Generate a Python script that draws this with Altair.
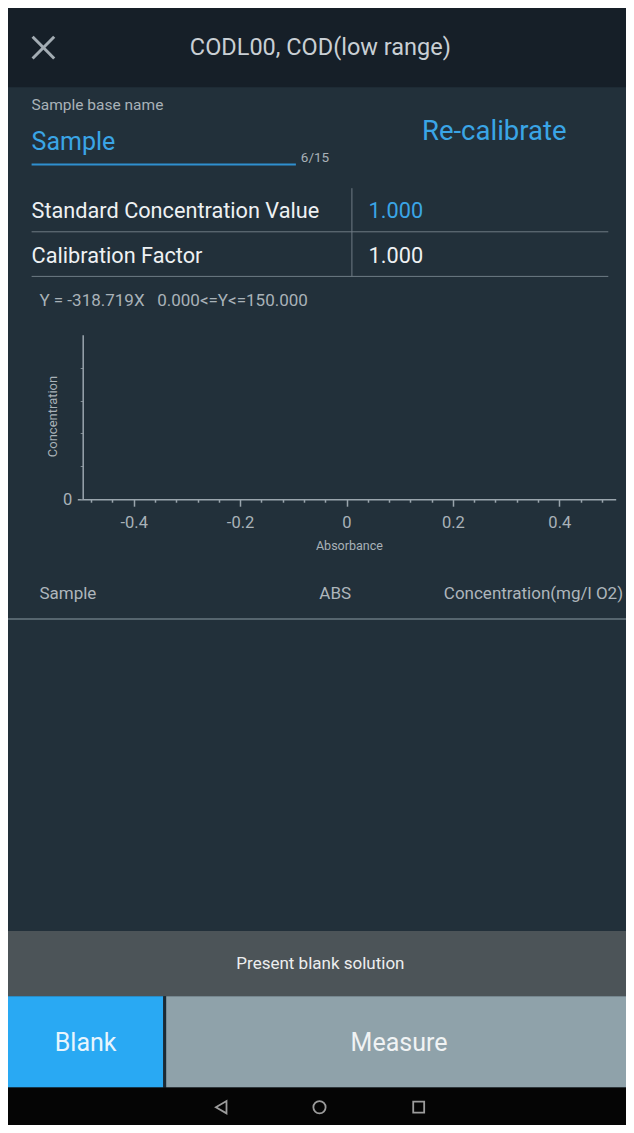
import altair as alt
import pandas as pd

# ---------------- data ----------------
screen_title = "CODL00, COD(low range)"
name_caption = "Sample base name"
sample_name = "Sample"
name_counter = "6/15"
recalibrate_label = "Re-calibrate"
param_names = ["Standard Concentration Value", "Calibration Factor"]
param_values = ["1.000", "1.000"]
equation_text = "Y = -318.719X\u00a0\u00a0\u00a00.000<=Y<=150.000"
table_columns = ["Sample", "ABS", "Concentration(mg/l O2)"]
status_text = "Present blank solution"
button_labels = ["Blank", "Measure"]

x_title = "Absorbance"
y_title = "Concentration"
x_domain = [-0.506, 0.506]
y_domain = [0, 150]
x_tick_values = [-0.48, -0.44, -0.40, -0.36, -0.32, -0.28, -0.24, -0.20, -0.16,
                 -0.12, -0.08, -0.04, 0.0, 0.04, 0.08, 0.12, 0.16, 0.20, 0.24,
                 0.28, 0.32, 0.36, 0.40, 0.44, 0.48]
x_label_values = [-0.4, -0.2, 0.0, 0.2, 0.4]
x_label_texts = ["-0.4", "-0.2", "0", "0.2", "0.4"]
y_tick_values = [0, 30, 60, 90, 120]
y_label_values = [0]
y_label_texts = ["0"]
measured_absorbance = []      # no samples measured yet
measured_concentration = []

# ---------------- styling / layout ----------------
W, H = 618, 1117                 # fits inside the page's 8px margins
SX = W / 629.0                   # screen (5..634) -> chart (0..W)
SY = H / 1128.0                  # screen (5..1133) -> chart (0..H)
FONT = "Roboto"
BG = "#22303a"
HEADER = "#161f28"
BLUE_TXT = "#3aa5e6"
GREY_TXT = "#a9b2b8"
WHITE_TXT = "#eef1f3"
AXIS = "#9aa5ad"


def X(px):
    return round((px - 5) * SX, 1)


def Y(px):
    return round((px - 5) * SY, 1)


one = pd.DataFrame({"k": [0]})


def txt(s, x, y, size, color, align="left", baseline="middle"):
    return alt.Chart(one).mark_text(
        text=s, align=align, baseline=baseline, fontSize=size, color=color, font=FONT
    ).encode(x=alt.value(X(x)), y=alt.value(Y(y)))


def box(x1, x2, y1, y2, color):
    return alt.Chart(one).mark_rect(color=color).encode(
        x=alt.value(X(x1)), x2=alt.value(X(x2)),
        y=alt.value(Y(y1)), y2=alt.value(Y(y2)))


def seg(x1, x2, y1, y2, color, w):
    return alt.Chart(one).mark_rule(color=color, strokeWidth=w).encode(
        x=alt.value(X(x1)), x2=alt.value(X(x2)),
        y=alt.value(Y(y1)), y2=alt.value(Y(y2)))


def icon(shape, x, y, size):
    return alt.Chart(one).mark_point(
        shape=shape, filled=False, size=size, strokeWidth=1.8, color="#dcdcdc"
    ).encode(x=alt.value(X(x)), y=alt.value(Y(y)))


def label_expr(values, texts):
    expr = "''"
    for v, t in zip(reversed(values), reversed(texts)):
        expr = f"abs(datum.value - ({v})) < 0.001 ? '{t}' : ({expr})"
    return expr


major_test = " || ".join(f"abs(datum.value - ({v})) < 0.001" for v in x_label_values)

# ---------------- calibration plot ----------------
plot_df = pd.DataFrame({"Absorbance": measured_absorbance,
                        "Concentration": measured_concentration})

axis_y0 = Y(501)
plot = alt.Chart(plot_df).mark_point(color=BLUE_TXT).encode(
    x=alt.X("Absorbance:Q",
            scale=alt.Scale(domain=x_domain, range=[X(75.5), X(623.5)], nice=False, zero=False),
            axis=alt.Axis(title=x_title, values=x_tick_values,
                          labelExpr=label_expr(x_label_values, x_label_texts),
                          tickSize={"condition": {"test": major_test, "value": 7}, "value": 3},
                          offset=-(H - axis_y0), grid=False, zindex=1,
                          domainColor=AXIS, domainWidth=1.5, tickColor=AXIS, tickWidth=1.5,
                          labelColor=GREY_TXT, labelFont=FONT, labelFontSize=16.5,
                          labelPadding=8, labelFlush=False, labelOverlap=False,
                          titleColor=GREY_TXT, titleFont=FONT, titleFontSize=12.5,
                          titleFontWeight="normal", titleX=X(352), titleY=Y(548) - axis_y0,
                          titleBaseline="middle")),
    y=alt.Y("Concentration:Q",
            scale=alt.Scale(domain=y_domain, range=[axis_y0, Y(335)], nice=False),
            axis=alt.Axis(title=y_title, values=y_tick_values,
                          labelExpr=label_expr(y_label_values, y_label_texts),
                          tickSize=2.5, offset=-X(81), grid=False, zindex=1,
                          domainColor=AXIS, domainWidth=1.5, tickColor="#7f8a91",
                          labelColor=GREY_TXT, labelFont=FONT, labelFontSize=16.5,
                          labelPadding=8.5, labelBaseline="middle",
                          titleColor=GREY_TXT, titleFont=FONT, titleFontSize=13,
                          titleFontWeight="normal", titleX=X(50) - X(81), titleY=Y(417),
                          titleAngle=270, titleAlign="center", titleBaseline="middle")),
)

layers = [
    # header bar
    box(5, 634, 5, 85, HEADER),
    seg(30, 52, 34, 56, "#a3acb3", 3),
    seg(52, 30, 34, 56, "#a3acb3", 3),
    txt(screen_title, 323, 45, 23.5, "#c9cfd4", align="center"),
    # sample name field
    txt(name_caption, 29, 103, 15.5, GREY_TXT),
    txt(sample_name, 29, 140, 25, BLUE_TXT),
    seg(29, 298, 163, 163, "#2f8fcf", 2),
    txt(name_counter, 303, 156, 13.5, GREY_TXT),
    txt(recalibrate_label, 500, 130, 27.5, BLUE_TXT, align="center"),
    # parameter table
    seg(29, 616, 231, 231, "#6e7b84", 1),
    seg(29, 616, 276, 276, "#6e7b84", 1),
    seg(355, 355, 187, 276, "#6e7b84", 1),
    txt(param_names[0], 29, 210, 21.7, WHITE_TXT),
    txt(param_values[0], 372, 210, 21.7, BLUE_TXT),
    txt(param_names[1], 29, 255, 21.7, WHITE_TXT),
    txt(param_values[1], 372, 255, 21.7, WHITE_TXT),
    txt(equation_text, 37, 301, 17, GREY_TXT),
    # plot
    plot,
    # results table header
    txt(table_columns[0], 37, 597, 17, "#aeb6bc"),
    txt(table_columns[1], 338, 597, 17, "#aeb6bc", align="center"),
    txt(table_columns[2], 631, 597, 17, "#aeb6bc", align="right"),
    seg(5, 634, 622, 622, "#56656e", 2),
    # status bar
    box(5, 634, 937, 1003, "#4c5458"),
    txt(status_text, 323, 970, 17, "#eceeef", align="center"),
    # buttons
    box(5, 163, 1003, 1095, "#29a9f3"),
    box(163, 166, 1003, 1095, "#1b2a34"),
    box(166, 634, 1003, 1095, "#8fa2aa"),
    txt(button_labels[0], 84, 1050, 25, "#e8f5fd", align="center"),
    txt(button_labels[1], 403, 1050, 25, "#f0f3f4", align="center"),
    # navigation bar
    box(5, 634, 1095, 1133, "#050505"),
    icon("triangle-left", 222, 1115, 150),
    icon("circle", 322, 1115, 150),
    icon("square", 423, 1115, 120),
]

chart = alt.layer(*layers).properties(
    width=W, height=H, padding=0,
    autosize=alt.AutoSizeParams(type="none"),
    background=BG,
).configure_view(strokeWidth=0)

chart.save("out.html", embed_options={"renderer": "svg", "actions": False})
